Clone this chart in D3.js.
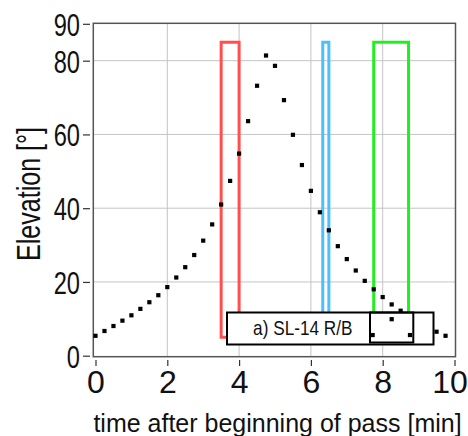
<!DOCTYPE html>
<html>
<head>
<meta charset="utf-8">
<script src="https://cdn.jsdelivr.net/npm/d3@7"></script>
<style>
  body { margin: 0; background: #fff; }
  svg { display: block; font-family: "Liberation Sans", Arial, sans-serif; }
</style>
</head>
<body>
<div id="chart"></div>
<script>
// elevation of the pass, one point every 15 s (points under the legend are not visible)
var times = [0, 0.25, 0.5, 0.75, 1, 1.25, 1.5, 1.75, 2, 2.25, 2.5, 2.75, 3, 3.25, 3.5, 3.75, 4,
             4.25, 4.5, 4.75, 5, 5.25, 5.5, 5.75, 6, 6.25, 6.5, 6.75, 7, 7.25, 7.5, 7.75, 8, 8.25, 8.5,
             9.5, 9.75];
var elevations = [5.4, 6.7, 8.05, 9.5, 10.95, 12.7, 14.5, 16.4, 18.6, 21.2, 24.0, 27.3, 31.2, 35.6, 41.0, 47.4, 54.8,
                  63.6, 73.2, 81.4, 78.6, 69.3, 59.9, 51.7, 44.7, 38.9, 34.0, 29.7, 26.2, 23.1, 20.3, 18.0, 15.9, 13.9, 12.2,
                  6.5, 5.4];

// observation windows (coloured boxes)
var windowStart = [3.5, 6.33, 7.75];
var windowEnd = [4.0, 6.5, 8.72];
var windowColors = ["#ff4f4f", "#4cc0ff", "#22ee22"];
var windowLow = 5, windowHigh = 85;

// legend
var legendLabel = "a) SL-14 R/B";
var legendDotsT = [7.72, 8.25, 8.76];
var legendDotsE = [5.6, 9.9, 5.6];

var xTicks = [0, 2, 4, 6, 8, 10];
var yTicks = [0, 20, 40, 60, 80, 90];
var xGrid = [2, 4, 6, 8];
var yGrid = [20, 40, 60, 80];

var w = 468, h = 436;
var svg = d3.select("#chart").append("svg")
    .attr("width", w)
    .attr("height", h);

var x = d3.scaleLinear().domain([0, 10]).range([95.5, 454.5]);
var y = d3.scaleLinear().domain([0, 90]).range([355.7, 23.8]);

var frame = {left: 93.3, top: 23.3, right: 455.5, bottom: 356.7};

// grid
svg.selectAll(".gx").data(xGrid).enter().append("line")
    .attr("x1", function(d) { return x(d); })
    .attr("x2", function(d) { return x(d); })
    .attr("y1", frame.top).attr("y2", frame.bottom)
    .style("stroke", "#c4c4c4").style("stroke-width", 1);
svg.selectAll(".gy").data(yGrid).enter().append("line")
    .attr("x1", frame.left).attr("x2", frame.right)
    .attr("y1", function(d) { return y(d); })
    .attr("y2", function(d) { return y(d); })
    .style("stroke", "#c4c4c4").style("stroke-width", 1);

// frame
svg.append("rect")
    .attr("x", frame.left).attr("y", frame.top)
    .attr("width", frame.right - frame.left)
    .attr("height", frame.bottom - frame.top)
    .style("fill", "none").style("stroke", "#555").style("stroke-width", 1.5);

// y axis
var yAxis = svg.append("g")
    .attr("transform", "translate(90,0)")
    .call(d3.axisLeft(y).tickValues(yTicks).tickSize(7).tickPadding(3).tickFormat(d3.format("d")));
yAxis.select(".domain").remove();
yAxis.selectAll("line").style("stroke", "#333").style("stroke-width", 1.2);
yAxis.selectAll("text")
    .attr("x", -10 / 0.74)
    .attr("dy", "0.36em")
    .attr("transform", "scale(0.74,1)")
    .style("font-size", "32px")
    .style("font-family", "Liberation Sans, Arial, sans-serif")
    .style("fill", "#111");

// x axis
var xAxis = svg.append("g")
    .attr("transform", "translate(0,360)")
    .call(d3.axisBottom(x).tickValues(xTicks).tickSize(6).tickPadding(4).tickFormat(d3.format("d")));
xAxis.select(".domain").remove();
xAxis.selectAll("line").style("stroke", "#333").style("stroke-width", 1.2);
xAxis.selectAll("text")
    .style("font-size", "32px")
    .style("font-family", "Liberation Sans, Arial, sans-serif")
    .style("fill", "#111");
// keep the last label inside the window
xAxis.selectAll("text").filter(function(d) { return d === 10; })
    .attr("dx", -5);

// axis titles
svg.append("text")
    .text("time after beginning of pass [min]")
    .attr("x", 277.5)
    .attr("y", 432)
    .style("text-anchor", "middle")
    .style("font-size", "25px")
    .style("fill", "#111");

svg.append("text")
    .text("Elevation [\u00b0]")
    .attr("transform", "translate(40,194) rotate(-90) scale(0.76,1)")
    .style("text-anchor", "middle")
    .style("font-size", "33px")
    .style("fill", "#111");

// observation windows
svg.selectAll(".win").data(windowStart).enter().append("rect")
    .attr("x", function(d) { return x(d); })
    .attr("y", y(windowHigh))
    .attr("width", function(d, i) { return x(windowEnd[i]) - x(d); })
    .attr("height", y(windowLow) - y(windowHigh))
    .style("fill", "none")
    .style("stroke", function(d, i) { return windowColors[i]; })
    .style("stroke-width", 3);

// legend box
svg.append("rect")
    .attr("x", 227).attr("y", 312.5)
    .attr("width", 206.5).attr("height", 32)
    .style("fill", "#fff").style("stroke", "#000").style("stroke-width", 2);
svg.append("rect")
    .attr("x", 370).attr("y", 312.5)
    .attr("width", 43.3).attr("height", 30)
    .style("fill", "none").style("stroke", "#000").style("stroke-width", 2);
svg.append("text")
    .text(legendLabel)
    .attr("transform", "translate(302.8,335) scale(0.86,1)")
    .style("text-anchor", "middle")
    .style("font-size", "20px")
    .style("fill", "#111");

// points
var sq = 4.2;
svg.selectAll(".pt").data(times).enter().append("rect")
    .attr("x", function(d) { return x(d) - sq / 2; })
    .attr("y", function(d, i) { return y(elevations[i]) - sq / 2; })
    .attr("width", sq).attr("height", sq)
    .style("fill", "#000");

svg.selectAll(".lpt").data(legendDotsT).enter().append("rect")
    .attr("x", function(d) { return x(d) - sq / 2; })
    .attr("y", function(d, i) { return y(legendDotsE[i]) - sq / 2; })
    .attr("width", sq).attr("height", sq)
    .style("fill", "#000");
</script>
</body>
</html>
